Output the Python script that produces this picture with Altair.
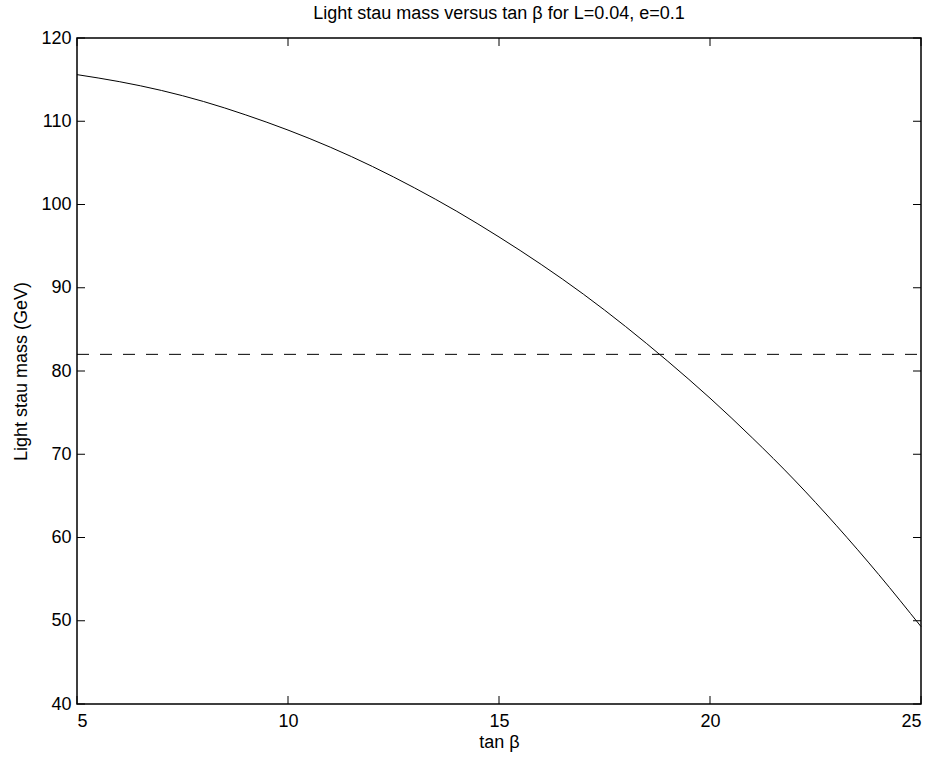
import altair as alt
import pandas as pd

# tan(beta) values and light stau mass (GeV)
tan_beta = [5, 6, 7, 8, 9, 10, 11, 12, 13, 14, 15, 16, 17, 18, 19, 20, 21, 22, 23, 24, 25]
stau_mass = [115.6, 114.76, 113.70, 112.37, 110.76, 108.94, 106.89, 104.57, 101.99, 99.18,
             96.1, 92.8, 89.23, 85.34, 81.17, 76.74, 71.98, 66.91, 61.41, 55.54, 49.3]

limit_value = [82]
x_ticks = [5, 10, 15, 20, 25]
y_ticks = [40, 50, 60, 70, 80, 90, 100, 110, 120]

W, H = 844, 666
FONT = "Liberation Sans"
FS = 18

df = pd.DataFrame({"t": tan_beta, "m": stau_mass})
df_lim = pd.DataFrame({"m": limit_value})
df_xt = pd.DataFrame({"t": x_ticks})
df_yt = pd.DataFrame({"m": y_ticks})

xscale = alt.Scale(domain=[5, 25], nice=False, zero=False)
yscale = alt.Scale(domain=[40, 120], nice=False, zero=False)

xaxis = alt.Axis(values=x_ticks, ticks=False, domain=False, grid=False,
                 labelFont=FONT, labelFontSize=FS, labelColor="black", labelPadding=8,
                 title="tan β", titleFont=FONT, titleFontSize=FS, titleFontWeight="normal",
                 titleColor="black", titlePadding=3)
yaxis = alt.Axis(values=y_ticks, ticks=False, domain=False, grid=False,
                 labelFont=FONT, labelFontSize=FS, labelColor="black", labelPadding=6,
                 title="Light stau mass (GeV)", titleFont=FONT, titleFontSize=FS,
                 titleFontWeight="normal", titleColor="black", titlePadding=10)

line = alt.Chart(df).mark_line(color="black", strokeWidth=1, interpolate="monotone").encode(
    x=alt.X("t:Q", scale=xscale, axis=xaxis),
    y=alt.Y("m:Q", scale=yscale, axis=yaxis),
)

limit = alt.Chart(df_lim).mark_rule(color="black", strokeWidth=1, strokeDash=[12, 11]).encode(
    y=alt.Y("m:Q", scale=yscale),
    x=alt.value(0), x2=alt.value(W),
)

xt_bottom = alt.Chart(df_xt).mark_rule(color="black", strokeWidth=1).encode(
    x=alt.X("t:Q", scale=xscale), y=alt.value(H), y2=alt.value(H - 8))
xt_top = alt.Chart(df_xt).mark_rule(color="black", strokeWidth=1).encode(
    x=alt.X("t:Q", scale=xscale), y=alt.value(0), y2=alt.value(8))
yt_left = alt.Chart(df_yt).mark_rule(color="black", strokeWidth=1).encode(
    y=alt.Y("m:Q", scale=yscale), x=alt.value(0), x2=alt.value(8))
yt_right = alt.Chart(df_yt).mark_rule(color="black", strokeWidth=1).encode(
    y=alt.Y("m:Q", scale=yscale), x=alt.value(W), x2=alt.value(W - 8))

chart = alt.layer(xt_bottom, xt_top, yt_left, yt_right, limit, line).properties(
    width=W, height=H,
    title=alt.TitleParams("Light stau mass versus tan β for L=0.04, e=0.1",
                          font=FONT, fontSize=FS, fontWeight="normal", color="black",
                          anchor="middle", offset=6),
    autosize=alt.AutoSizeParams(type="none"),
    padding={"left": 77, "top": 38, "right": 16, "bottom": 55},
    background="white",
).configure_view(stroke="black", strokeWidth=1.5)

chart.save("out.html", embed_options={"renderer": "svg", "actions": False})
